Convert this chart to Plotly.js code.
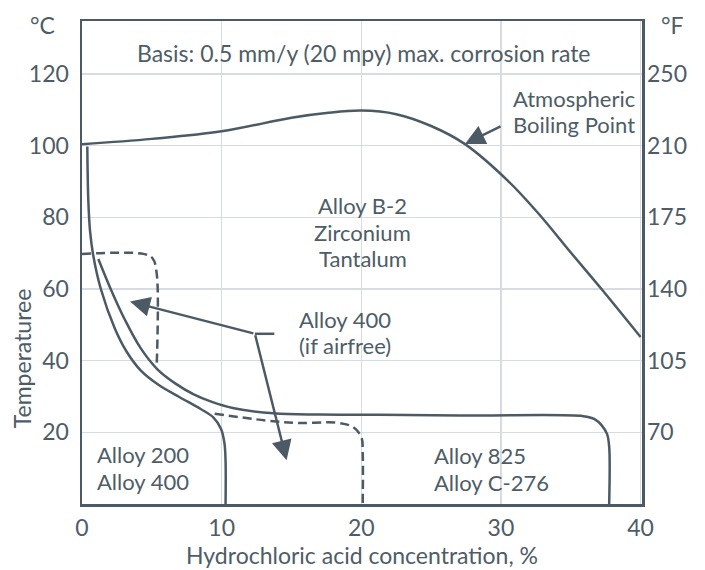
<!DOCTYPE html>
<html><head><meta charset="utf-8">
<script src="https://cdn.plot.ly/plotly-3.0.1.min.js"></script>
<style>html,body{margin:0;padding:0;background:#fff}#chart{width:705px;height:570px}</style>
</head><body><div id="chart"></div>
<script>
// ---- data ----
var boilX = [0, 5, 10, 15, 17.5, 20, 22.5, 25, 27.4, 30.5, 32.7, 35, 37.2, 40];
var boilT = [100.4, 101.9, 104, 107.8, 109.1, 109.8, 108.8, 105.5, 100.5, 90.2, 81, 70.2, 60, 46.6];

var a200X = [0.38, 0.45, 0.58, 0.8, 1.35, 2.35, 3.2, 4.2, 5.5, 7.0, 8.5, 9.4, 9.95, 10.2, 10.28, 10.28];
var a200T = [99.8, 85, 76, 69.5, 60, 49, 42.5, 37.3, 33.2, 29.8, 26.5, 24.2, 21, 17, 12, 0];

var a825X = [1.17, 2.1, 3.1, 4.2, 5.4, 6.7, 8.0, 9.3, 10.8, 13.7, 17, 21.3, 28, 35.9, 36.7, 37.2, 37.6, 37.75, 37.75];
var a825T = [68.4, 59.6, 51.2, 43.5, 37.6, 33.6, 30.6, 28.5, 26.8, 25.3, 24.95, 24.9, 24.7, 24.5, 23.7, 22, 19.5, 16, 0];

var dash1X = [0, 4.4, 5.05, 5.35, 5.35];
var dash1T = [69.8, 69.8, 68.6, 64.3, 38.7];

var dash2X = [9.5, 13.2, 15.6, 18.2, 19.4, 20.0, 20.1, 20.1];
var dash2T = [25.2, 23.3, 22.6, 22.7, 21.5, 18.7, 14, 0];

var connX = [12.38, 13.77];
var connT = [47.5, 47.5];

// arrows: [tailX, tailT, headX, headT]
var arrows = [
  [30.08, 105.6, 27.42, 100.5],
  [12.38, 47.5, 3.44, 56.5],
  [12.38, 47.5, 14.65, 12.2]
];

var xTicks = [0, 10, 20, 30, 40];
var yTicks = [20, 40, 60, 80, 100, 120];
var fTickText = ['70', '105', '140', '175', '210', '250'];

// labels: lines, x, T, anchor
var labels = [
  {lines: ['Basis: 0.5 mm/y (20 mpy) max. corrosion rate'], x: 20.2, t: 126, anchor: 'center', big: true},
  {lines: ['Atmospheric', 'Boiling Point'], x: 39.7, t: 109.5, anchor: 'right'},
  {lines: ['Alloy B-2', 'Zirconium', 'Tantalum'], x: 20.1, t: 75.9, anchor: 'center'},
  {lines: ['Alloy 400', '(if airfree)'], x: 18.8, t: 47.8, anchor: 'center'},
  {lines: ['Alloy 200', 'Alloy 400'], x: 1.0, t: 10, anchor: 'left'},
  {lines: ['Alloy 825', 'Alloy C-276'], x: 25.1, t: 9.7, anchor: 'left'}
];

// ---- styling ----
var INK = '#4b5a65';
var TXT = '#4e5c67';
var FONT = 'Lato, "Noto Sans", sans-serif';
var FS = 23;
var LFS = 22;
var LH = 26.5;

function line(x, y, dash) {
  return {x: x, y: y, type: 'scatter', mode: 'lines', hoverinfo: 'skip', showlegend: false,
    line: {color: INK, width: 2.5, shape: 'spline', smoothing: 1, dash: dash || 'solid'}};
}

var traces = [
  line(boilX, boilT),
  line(a200X, a200T),
  line(a825X, a825T),
  line(dash1X, dash1T, '9px,5px'),
  line(dash2X, dash2T, '9px,5px'),
  {x: connX, y: connT, type: 'scatter', mode: 'lines', hoverinfo: 'skip', showlegend: false,
   line: {color: INK, width: 2.5}},
  {x: [0], y: [0], yaxis: 'y2', type: 'scatter', mode: 'markers', marker: {opacity: 0}, hoverinfo: 'skip', showlegend: false}
];

var annotations = [];
labels.forEach(function (lb) {
  var n = lb.lines.length;
  lb.lines.forEach(function (s, i) {
    annotations.push({x: lb.x, y: lb.t, xref: 'x', yref: 'y', text: s, showarrow: false,
      xanchor: lb.anchor, yanchor: 'middle', align: lb.anchor, borderpad: 0,
      yshift: ((n - 1) / 2 - i) * LH,
      font: {family: FONT, size: lb.big ? FS : LFS, color: TXT}});
  });
});
arrows.forEach(function (a) {
  annotations.push({x: a[2], y: a[3], ax: a[0], ay: a[1], xref: 'x', yref: 'y', axref: 'x', ayref: 'y',
    text: '', showarrow: true, arrowhead: 2, arrowsize: 1.6, arrowwidth: 2.5, arrowcolor: INK, standoff: 0, startstandoff: 0});
});
annotations.push({x: -0.071, y: 0.992, xref: 'paper', yref: 'paper', text: '°C', showarrow: false,
  xanchor: 'center', yanchor: 'middle', font: {family: FONT, size: FS, color: TXT}});
annotations.push({x: 1.054, y: 0.992, xref: 'paper', yref: 'paper', text: '°F', showarrow: false,
  xanchor: 'center', yanchor: 'middle', font: {family: FONT, size: FS, color: TXT}});
annotations.push({x: -0.107, y: 0.302, xref: 'paper', yref: 'paper', text: 'Temperaturee', showarrow: false,
  textangle: -90, xanchor: 'center', yanchor: 'middle', font: {family: FONT, size: FS, color: TXT}});

var layout = {
  width: 705, height: 570,
  margin: {l: 82, r: 63, t: 21, b: 66},
  paper_bgcolor: '#ffffff', plot_bgcolor: '#ffffff',
  font: {family: FONT, size: FS, color: TXT},
  showlegend: false,
  xaxis: {range: [0, 40.1], tickvals: xTicks, ticks: '', showgrid: true, gridcolor: '#d6dce0', gridwidth: 1.3,
    zeroline: false, showline: true, linecolor: INK, linewidth: 2.5, mirror: true,
    ticklabelstandoff: 2,
    title: {text: 'Hydrochloric acid concentration, %', standoff: 5, font: {family: FONT, size: FS, color: TXT}},
    tickfont: {family: FONT, size: FS, color: TXT}},
  yaxis: {range: [0, 134.8], tickvals: yTicks, ticks: '', showgrid: true, gridcolor: '#d6dce0', gridwidth: 1.3,
    zeroline: false, showline: true, linecolor: INK, linewidth: 2.5, mirror: true,
    ticklabelstandoff: 6,
    tickfont: {family: FONT, size: FS, color: TXT}},
  yaxis2: {range: [0, 134.8], overlaying: 'y', side: 'right', tickvals: yTicks, ticktext: fTickText, ticks: '',
    showgrid: false, zeroline: false, showline: false, ticklabelstandoff: 4,
    tickfont: {family: FONT, size: FS, color: TXT}},
  annotations: annotations
};

Plotly.newPlot('chart', traces, layout, {displayModeBar: false, staticPlot: true});
</script></body></html>
